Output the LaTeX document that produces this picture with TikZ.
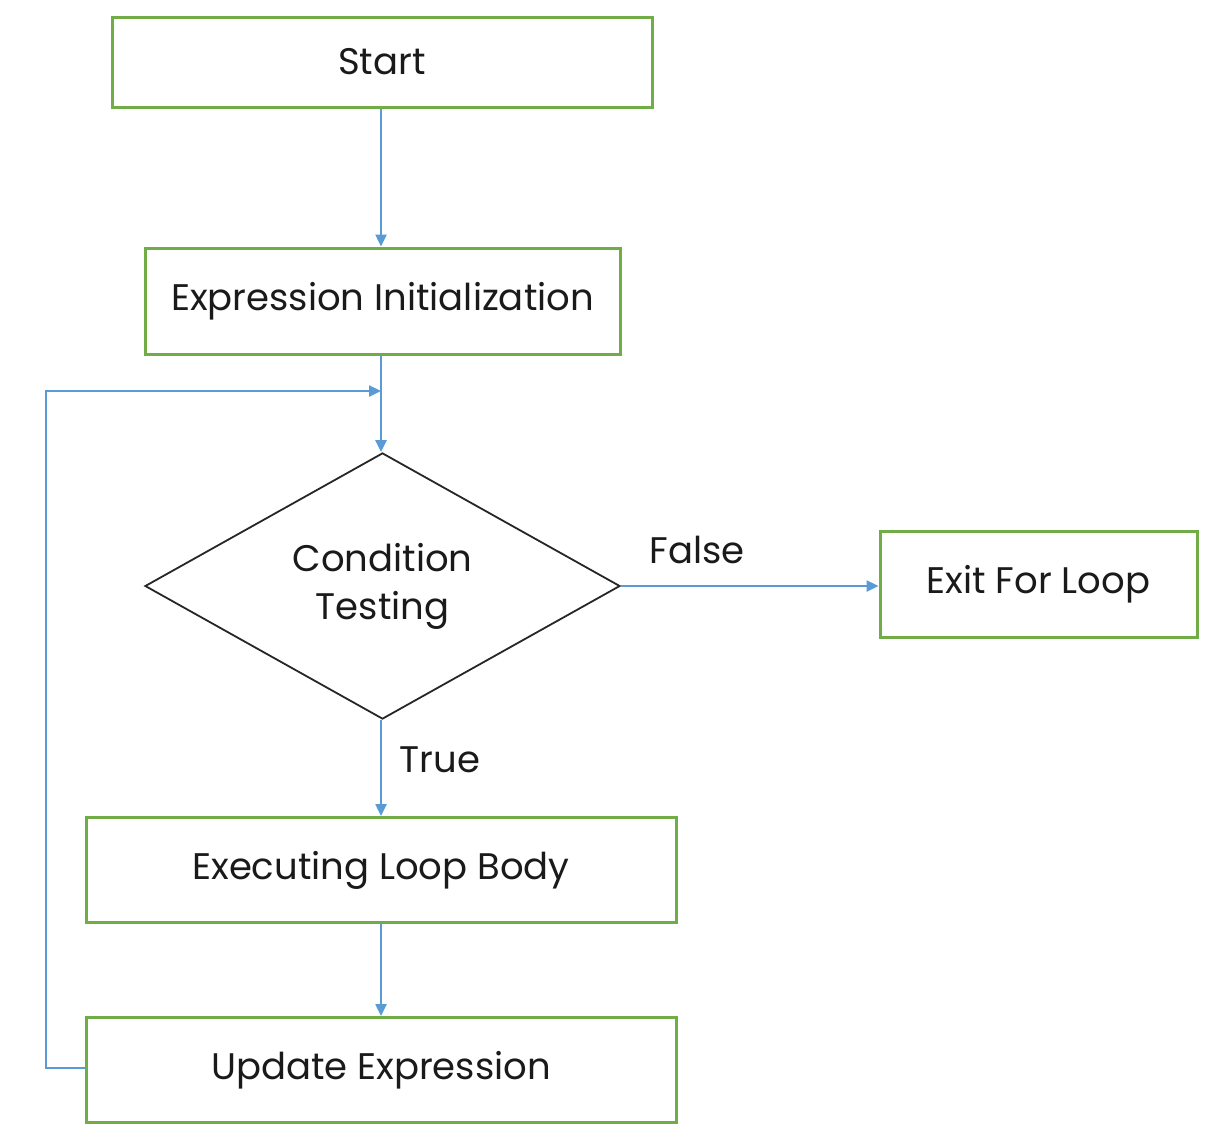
\documentclass[tikz,border=0pt]{standalone}
\usepackage{fontspec}
\setmainfont{Poppins}
\usetikzlibrary{shapes.geometric,arrows.meta}
\definecolor{gbox}{HTML}{70AD47}
\definecolor{barrow}{HTML}{5B9BD5}
\definecolor{txt}{HTML}{1A1A1A}
\begin{document}
\begin{tikzpicture}[x=1pt,y=-1pt,
  box/.style={draw=gbox,line width=3pt,rectangle,inner sep=0pt,text=txt,font=\fontsize{37}{44}\selectfont},
  dec/.style={draw=black!85,line width=1.8pt,diamond,inner sep=0pt,text=txt,font=\fontsize{37}{48}\selectfont,align=center},
  conn/.style={draw=barrow,line width=2.4pt,-{Triangle[length=12pt,width=11pt]}},
  lbl/.style={text=txt,font=\fontsize{37}{44}\selectfont}]
\useasboundingbox (0,0) rectangle (1222,1138);
\node[box,minimum width=540pt,minimum height=90pt] (start) at (382,62) {Start};
\node[box,minimum width=475pt,minimum height=106pt] (init) at (382.5,301) {Expression Initialization};
\node[dec,minimum width=475pt,minimum height=262pt] (cond) at (382.5,586) {Condition\\Testing};
\node[box,minimum width=317pt,minimum height=106pt] (exit) at (1038.5,584) {Exit For Loop};
\node[box,minimum width=590pt,minimum height=105pt] (body) at (381,870) {Executing Loop Body};
\node[box,minimum width=590pt,minimum height=105pt] (upd) at (381,1070) {Update Expression};
\coordinate (lbot) at (46,1068);
\coordinate (ltop) at (46,391);
\coordinate (join) at (381,391);
\draw[conn] (start.south -| join) -- (init.north -| join);
\draw[conn] (init.south -| join) -- (cond.north -| join);
\draw[conn] (upd.west |- lbot) -- (lbot) -- (ltop) -- (join);
\draw[conn] (cond.east) -- (exit.west |- cond.east);
\draw[conn] (cond.south -| join) -- (body.north -| join);
\draw[conn] (body.south -| join) -- (upd.north -| join);
\node[lbl] (false) at (697,550) {False};
\node[lbl] (true) at (440,760) {True};
\end{tikzpicture}
\end{document}
